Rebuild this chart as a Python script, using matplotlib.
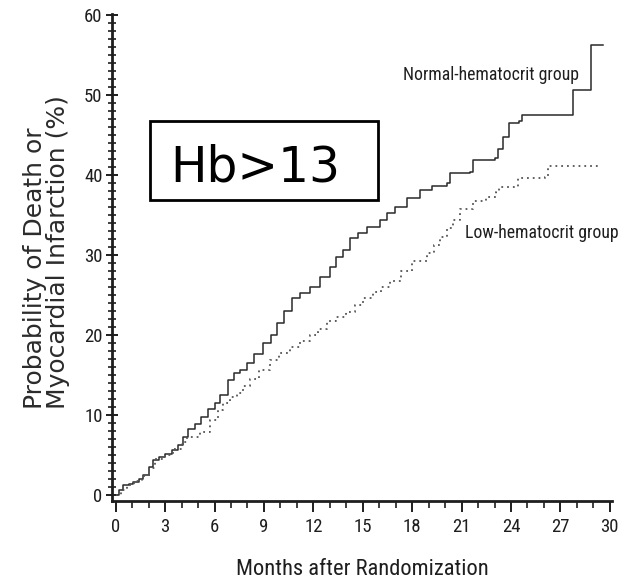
import numpy as np
import matplotlib
matplotlib.use("Agg")
import matplotlib.pyplot as plt
from matplotlib import font_manager
from matplotlib.ticker import MultipleLocator

# Kaplan-Meier style cumulative event curves (months, percent)
normal_months = [0.0, 0.2, 0.46, 0.8, 1.07, 1.4, 1.68, 2.0, 2.28, 2.6, 3.0, 3.4, 3.8,
                 4.1, 4.41, 4.8, 5.2, 5.62, 6.0, 6.33, 6.84, 7.2, 7.55, 7.95, 8.4,
                 8.96, 9.4, 9.77, 10.2, 10.69, 11.2, 11.8, 12.4, 13.0, 13.4, 13.82,
                 14.2, 14.7, 15.24, 16.05, 16.5, 16.96, 17.67, 18.5, 19.2, 20.1,
                 20.3, 21.5, 21.7, 23.0, 23.2, 23.5, 23.9, 24.5, 24.65, 27.75,
                 28.86, 29.6]
normal_pct = [0.0, 0.6, 1.25, 1.4, 1.66, 2.0, 2.5, 3.5, 4.4, 4.8, 5.1, 5.6, 6.25,
              7.3, 8.3, 8.9, 9.7, 10.8, 11.5, 12.5, 14.4, 15.3, 15.6, 16.5, 17.6,
              19.0, 20.0, 21.5, 23.0, 24.6, 25.2, 26.0, 27.3, 28.5, 29.8, 30.6,
              32.1, 32.8, 33.5, 34.4, 35.2, 36.0, 37.1, 38.1, 38.6, 39.0,
              40.2, 40.4, 41.9, 42.1, 43.3, 44.8, 46.5, 46.7, 47.5, 50.6,
              56.25, 56.25]

low_months = [0.0, 0.3, 0.7, 1.1, 1.6, 2.0, 2.4, 3.0, 3.5, 4.0, 4.3, 5.12, 5.73,
              6.2, 6.53, 6.94, 7.35, 7.75, 8.15, 8.7, 9.37, 9.9, 10.58, 11.2, 11.8,
              12.3, 12.81, 13.4, 14.0, 14.5, 15.03, 15.6, 16.1, 16.65, 17.3, 17.97,
              18.9, 19.3, 19.7, 20.1, 20.5, 20.9, 21.7, 22.5, 23.1, 23.3, 24.45,
              26.06, 26.27, 29.4]
low_pct = [0.0, 0.6, 1.3, 1.7, 2.4, 3.4, 4.5, 5.0, 5.7, 6.6, 7.3, 7.9, 9.4,
           10.6, 11.5, 12.3, 12.7, 13.6, 14.5, 15.6, 16.9, 17.8, 18.5, 19.2, 20.0,
           20.8, 21.7, 22.3, 22.9, 23.7, 24.6, 25.4, 26.0, 26.8, 28.0, 29.2,
           30.2, 31.2, 32.3, 33.4, 34.4, 35.8, 36.7, 37.3, 37.9, 38.5, 39.6,
           39.8, 41.1, 41.1]

# pick a condensed face if one is installed, otherwise shrink Liberation Sans
installed = {f.name for f in font_manager.fontManager.ttflist}
narrow, scale = "Liberation Sans", 0.84
for cand in ["Liberation Sans Narrow", "Roboto Condensed", "Arial Narrow"]:
    if cand in installed:
        narrow, scale = cand, 1.0
        break

ink = "#1e1e1e"

fig = plt.figure(figsize=(6.25, 5.86), dpi=100)
ax = fig.add_axes([0.1786, 0.145, 0.801, 0.8307])

ax.step(normal_months, normal_pct, where="post", color="#2a2a2a", lw=1.1)
ax.step(low_months, low_pct, where="post", color="#555555", lw=1.3,
        linestyle=(0, (1, 2.2)))

ax.set_xlim(-0.25, 30.15)
ax.set_ylim(-0.75, 60.1)

for side in ["top", "right"]:
    ax.spines[side].set_visible(False)
for side in ["left", "bottom"]:
    ax.spines[side].set_linewidth(2)
    ax.spines[side].set_color(ink)

ax.xaxis.set_major_locator(MultipleLocator(3))
ax.xaxis.set_minor_locator(MultipleLocator(1))
ax.yaxis.set_major_locator(MultipleLocator(10))
ax.yaxis.set_minor_locator(MultipleLocator(1))

ax.tick_params(axis="x", which="major", direction="out", length=8, width=1.4,
               color=ink, pad=4)
ax.tick_params(axis="x", which="minor", direction="out", length=5, width=1.2,
               color=ink)
ax.tick_params(axis="y", which="major", direction="inout", length=9, width=1.4,
               color=ink, pad=2)
ax.tick_params(axis="y", which="minor", direction="inout", length=6, width=1.2,
               color=ink)

for lab in ax.get_xticklabels() + ax.get_yticklabels():
    lab.set_family(narrow)
    lab.set_fontsize(13.5 * scale)
    lab.set_color(ink)

fig.text(0.5795, 0.01, "Months after Randomization", family=narrow,
         fontsize=16.2 * scale, color=ink, ha="center", va="bottom")

fig.text(0.074, 0.57, "Probability of Death or\nMyocardial Infarction (%)",
         family="DejaVu Sans", fontsize=18, color="#2b2b2b", rotation=90,
         ha="center", va="center", multialignment="left", linespacing=0.95)

ax.text(17.45, 52.5, "Normal-hematocrit group", family=narrow,
        fontsize=12.8 * scale, color=ink, ha="left", va="center")
ax.text(21.2, 32.75, "Low-hematocrit group", family=narrow,
        fontsize=12.8 * scale, color=ink, ha="left", va="center")

fig.text(170 / 625, (586 - 182) / 586, "Hb>13", family="DejaVu Sans",
         fontsize=35, color="black", ha="left", va="baseline")
box = plt.Rectangle((150 / 625, (586 - 200) / 586), 228 / 625, 79 / 586,
                    transform=fig.transFigure, fill=False, lw=2, ec="black")
fig.patches.append(box)

fig.savefig("out.png", dpi=100)
